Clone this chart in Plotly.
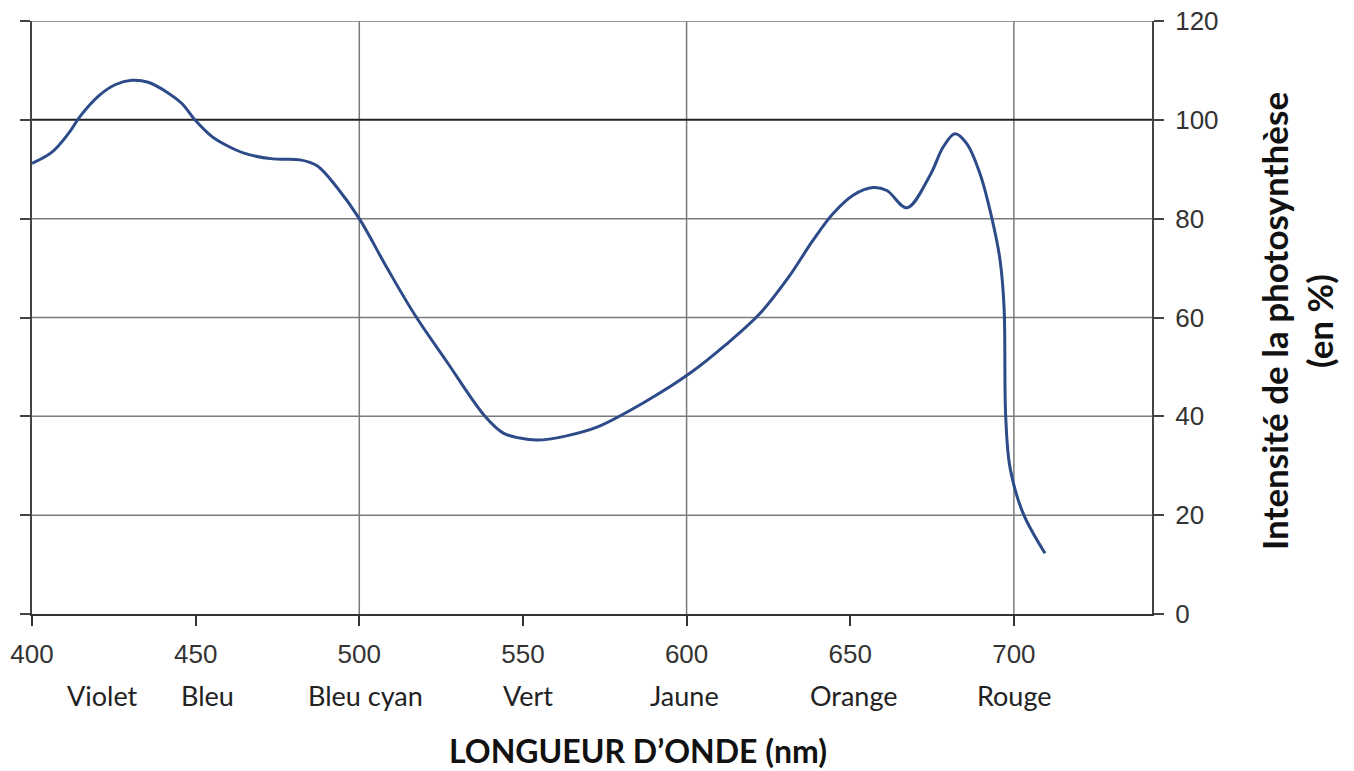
import plotly.graph_objects as go

# Wavelength (nm) and photosynthesis intensity (%)
wavelength = [400, 406, 411.1, 414.7, 420.3, 425.4, 430.5, 435.5, 441.7, 445.8,
              449.9, 455, 459.2, 465, 473.6, 481.9, 487.1, 493.2, 500, 508.5,
              517, 526.8, 538.4, 544, 549, 554.3, 563, 572.6, 588, 601,
              612, 622.4, 631, 638.6, 644.7, 651, 657, 661.2, 667.3, 674.4,
              678.4, 682, 685.6, 689.7, 693.2, 695.8, 697, 697.5, 698.8, 702.8,
              709.5]
intensity = [91.2, 93.4, 97.2, 100.7, 104.8, 107.1, 108.0, 107.6, 105.4, 103.3,
             99.9, 96.6, 94.9, 93.2, 92.1, 91.9, 90.7, 86.3, 80.0, 70.0,
             60.5, 51.0, 40.0, 36.6, 35.6, 35.2, 36.0, 37.8, 43.2, 48.7,
             54.5, 60.8, 68.0, 75.6, 81.0, 84.8, 86.3, 85.7, 82.2, 88.8,
             94.5, 97.2, 95.2, 89.0, 80.3, 71.5, 62.1, 40.0, 29.7, 20.4,
             12.3]

x_ticks = [400, 450, 500, 550, 600, 650, 700]
y_ticks = [0, 20, 40, 60, 80, 100, 120]
grid_x = [500, 600, 700]
grid_y = [20, 40, 60, 80, 120]
ref_line = [100]
x_max = 742.2

color_names = ["Violet", "Bleu", "Bleu cyan", "Vert", "Jaune", "Orange", "Rouge"]
color_pos = [421.5, 453.7, 502, 551.5, 599.3, 651.3, 700]

x_title = "LONGUEUR D’ONDE (nm)"
y_title = "Intensité de la photosynthèse<br>(en %)"

fig = go.Figure()
fig.add_trace(go.Scatter(
    x=wavelength, y=intensity, mode="lines",
    line=dict(color="#2c4b88", width=3, shape="spline", smoothing=1.0),
    showlegend=False, hoverinfo="skip"))

shapes = []
for gx in grid_x:
    shapes.append(dict(type="line", xref="x", yref="y", x0=gx, x1=gx, y0=0, y1=120,
                       line=dict(color="#7a7a7a", width=1.5), layer="below"))
for gy in grid_y:
    shapes.append(dict(type="line", xref="x", yref="y", x0=400, x1=x_max, y0=gy, y1=gy,
                       line=dict(color="#7a7a7a", width=1.5), layer="below"))
for gy in ref_line:
    shapes.append(dict(type="line", xref="x", yref="y", x0=400, x1=x_max, y0=gy, y1=gy,
                       line=dict(color="#222222", width=2), layer="below"))

annotations = []
for name, pos in zip(color_names, color_pos):
    annotations.append(dict(x=pos, y=-0.137, xref="x", yref="paper", text=name,
                            showarrow=False, xanchor="center", yanchor="middle",
                            font=dict(family="Lato", size=27, color="#222222")))
annotations.append(dict(x=0.541, y=-0.231, xref="paper", yref="paper", text=x_title,
                        showarrow=False, xanchor="center", yanchor="middle",
                        font=dict(family="Lato", size=32, color="#111111", weight="bold")))
annotations.append(dict(x=1.1295, y=0.494, xref="paper", yref="paper", text=y_title,
                        showarrow=False, textangle=-90, xanchor="center", yanchor="middle",
                        font=dict(family="Lato", size=35, color="#111111", weight="bold")))

fig.update_layout(
    width=1354, height=771,
    margin=dict(l=32, r=202, t=21, b=157),
    paper_bgcolor="white", plot_bgcolor="white",
    shapes=shapes, annotations=annotations,
    xaxis=dict(range=[400, x_max], tickvals=x_ticks, showgrid=False, zeroline=False,
               automargin=False, ticklabeloverflow="allow",
               showline=True, linecolor="#333333", linewidth=2,
               ticks="outside", ticklen=10, tickwidth=1.5, tickcolor="#333333",
               ticklabelstandoff=6,
               tickfont=dict(family="Liberation Sans", size=26, color="#333333")),
    yaxis=dict(range=[0, 120], tickvals=y_ticks, side="right", showgrid=False,
               automargin=False, ticklabeloverflow="allow",
               zeroline=False, showline=True, linecolor="#444444", linewidth=2,
               mirror="ticks", ticks="outside", ticklen=10, tickwidth=1.5,
               tickcolor="#444444", ticklabelstandoff=6,
               tickfont=dict(family="Liberation Sans", size=26, color="#333333")),
)

fig.write_html("out.html", config={"displayModeBar": False},
               post_script="document.body.style.margin='0';")
